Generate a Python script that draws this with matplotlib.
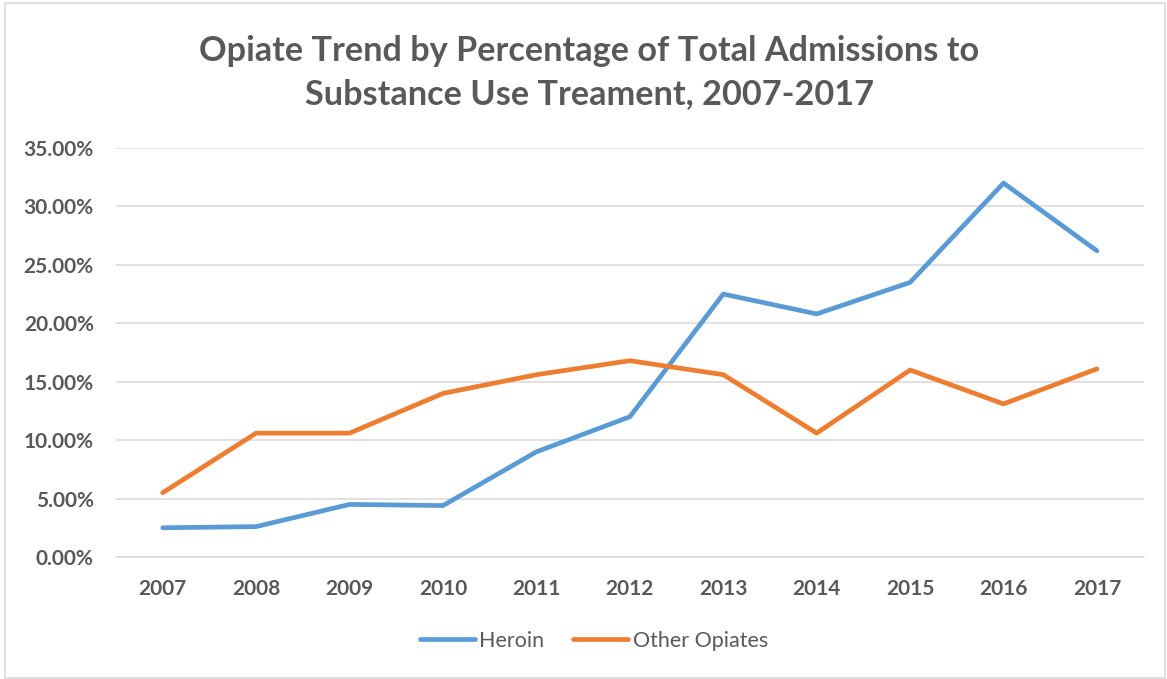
import matplotlib
matplotlib.use("Agg")
import matplotlib.pyplot as plt
from matplotlib.patches import Rectangle
from matplotlib.ticker import PercentFormatter

years = ["2007", "2008", "2009", "2010", "2011", "2012", "2013", "2014", "2015", "2016", "2017"]
heroin = [2.5, 2.6, 4.5, 4.4, 9.0, 12.0, 22.5, 20.8, 23.5, 32.0, 26.2]
other_opiates = [5.5, 10.6, 10.6, 14.0, 15.6, 16.8, 15.6, 10.6, 16.0, 13.1, 16.1]

TEXT = "#595959"
plt.rcParams["font.family"] = ["Lato", "DejaVu Sans"]

fig = plt.figure(figsize=(11.67, 6.79), dpi=100)
ax = fig.add_axes([0.0994, 0.1797, 0.8806, 0.6023])

x = list(range(len(years)))
ax.plot(x, heroin, color="#5B9BD5", linewidth=3.4, solid_capstyle="round", label="Heroin")
ax.plot(x, other_opiates, color="#ED7D31", linewidth=3.4, solid_capstyle="round", label="Other Opiates")

ax.set_xlim(-0.5, len(years) - 0.5)
ax.set_ylim(0, 35)
ax.set_yticks(range(0, 36, 5))
ax.yaxis.set_major_formatter(PercentFormatter(decimals=2))
ax.set_xticks(x)
ax.set_xticklabels(years)
ax.tick_params(length=0, labelsize=15, labelcolor=TEXT)
ax.tick_params(axis="x", pad=16)
ax.tick_params(axis="y", pad=16)
for lbl in ax.get_xticklabels() + ax.get_yticklabels():
    lbl.set_fontweight("bold")
ax.grid(axis="y", color="#D9D9D9", linewidth=1.1)
ax.set_axisbelow(True)
for side in ("top", "right", "left"):
    ax.spines[side].set_visible(False)
ax.spines["bottom"].set_color("#D9D9D9")
ax.spines["bottom"].set_linewidth(1.1)

fig.text(0.505, 0.893, "Opiate Trend by Percentage of Total Admissions to\nSubstance Use Treament, 2007-2017",
         ha="center", va="center", fontsize=24.7, fontweight="bold", color=TEXT, linespacing=1.42)

leg = fig.legend(loc="center", bbox_to_anchor=(0.509, 0.056), ncol=2, frameon=False,
                 fontsize=15.5, handlelength=2.55, handletextpad=0.2, columnspacing=1.35)
for t in leg.get_texts():
    t.set_color(TEXT)

fig.patches.append(Rectangle((0.004, 0.002), 0.994, 0.994, transform=fig.transFigure,
                             fill=False, edgecolor="#D9D9D9", linewidth=1.2))

fig.savefig("out.png", dpi=100)
